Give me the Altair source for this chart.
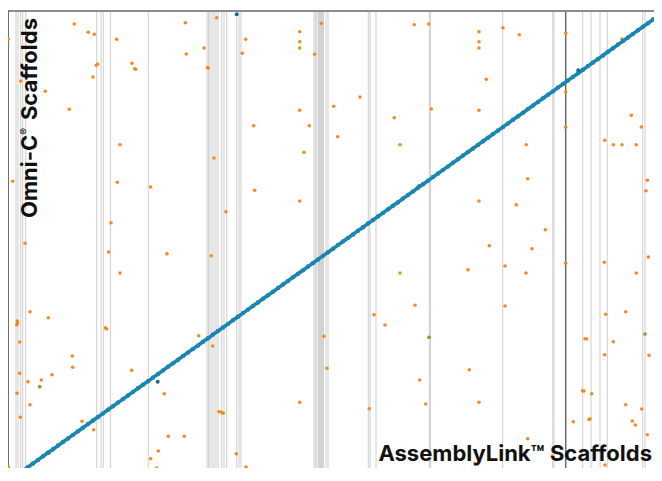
import altair as alt
import pandas as pd

# Scaffold boundaries on the AssemblyLink axis (plot units)
boundary_x = [8, 10, 12.7, 14.7, 17.7, 88.7, 93, 95.3, 102.5, 140.3,
              199, 200.5, 202, 204, 206, 208, 210, 213.7, 216, 218.7,
              228.7, 231, 233, 306, 307.5, 309, 310.5, 311.5, 312.5, 313.5,
              314.5, 315.5, 318, 320, 360.3, 362, 368, 421.3, 422.5, 494.7,
              544.7, 546, 574.7, 583, 592, 599.3, 634.7, 637, 648.7, 652]
boundary_dark_x = [557.7]

# Collinear (syntenic) alignments along the diagonal
diag_x = [0, 5, 10, 15, 20, 25, 30, 35, 40, 45, 50, 55, 60, 65, 70, 75, 80, 85, 90, 95,
          100, 105, 110, 115, 120, 125, 130, 135, 140, 145, 150, 155, 160, 165, 170, 175,
          180, 185, 190, 195, 200, 205, 210, 215, 220, 225, 230, 235, 240, 245, 250, 255,
          260, 265, 270, 275, 280, 285, 290, 295, 300, 305, 310, 315, 320, 325, 330, 335,
          340, 345, 350, 355, 360, 365, 370, 375, 380, 385, 390, 395, 400, 405, 410, 415,
          420, 425, 430, 435, 440, 445, 450, 455, 460, 465, 470, 475, 480, 485, 490, 495,
          500, 505, 510, 515, 520, 525, 530, 535, 540, 545, 550, 555, 560, 565, 570, 575,
          580, 585, 590, 595, 600, 605, 610, 615, 620, 625, 630, 635, 640, 645, 650, 655]
diag_y = [-0.4, 3.2, 6.8, 10.3, 13.9, 17.5, 21.1, 24.7, 28.2, 31.8, 35.4, 39.0, 42.6, 46.1,
          49.7, 53.3, 56.9, 60.5, 64.0, 67.6, 71.2, 74.8, 78.4, 81.9, 85.5, 89.1, 92.7, 96.3,
          99.8, 103.4, 107.0, 110.6, 114.2, 117.7, 121.3, 124.9, 128.5, 132.1, 135.6, 139.2,
          142.8, 146.4, 150.0, 153.5, 157.1, 160.7, 164.3, 167.9, 171.4, 175.0, 178.6, 182.2,
          185.8, 189.3, 192.9, 196.5, 200.1, 203.7, 207.2, 210.8, 214.4, 218.0, 221.6, 225.1,
          228.7, 232.3, 235.9, 239.5, 243.0, 246.6, 250.2, 253.8, 257.4, 260.9, 264.5, 268.1,
          271.7, 275.3, 278.8, 282.4, 286.0, 289.6, 293.2, 296.7, 300.3, 303.9, 307.5, 311.1,
          314.6, 318.2, 321.8, 325.4, 329.0, 332.5, 336.1, 339.7, 343.3, 346.9, 350.4, 354.0,
          357.6, 361.2, 364.8, 368.3, 371.9, 375.5, 379.1, 382.7, 386.2, 389.8, 393.4, 397.0,
          400.6, 404.1, 407.7, 411.3, 414.9, 418.5, 422.0, 425.6, 429.2, 432.8, 436.4, 439.9,
          443.5, 447.1, 450.7, 454.3, 457.8, 461.4, 465.0, 468.6]

blue_x = [228.7, 149.7, 652.7, 570.3]
blue_y = [466.7, 99.3, 146, 410.8]

green_x = [31.7, 40, 17.3, 421, 637, 411]
green_y = [94.3, 28.5, 11, 143.7, 147, 295.3]

orange_x = [0.3, 66.3, 80.3, 86.3, 108.7, 177.3, 208.7, 89.7, 88.3, 124, 127.7, 126.7, 178.3, 196,
            200.3, 199.5, 85, 12.7, 37.3, 61.3, 26.7, 112, 206, 4.7, 109.3, 142.7, 103, 17, 100.7,
            159, 203.3, 112, 22, 40.3, 9.3, 8.7, 9.7, 97.3, 98.7, 11.7, 190.7, 204.7, 64.3, 64.7,
            11.7, 123.7, 20, 33.3, 44, 9, 156.3, 22, 12.3, 211, 74, 85.7, 160.3, 176.3, 41, 150.3,
            142.7, 148.7, 0.3, 91, 124.3, 152.7, 196, 22, 6.3, 237.7, 291.7, 291.7, 291.7, 313.3,
            234.3, 306.7, 406.3, 420.7, 352, 325.7, 291.7, 423.3, 245.7, 301.3, 386.3, 329.7, 392,
            296, 246.7, 291.7, 218, 392, 407, 366, 377, 316, 319, 411.7, 291.7, 361.3, 417.7,
            213.7, 215.3, 228.3, 238, 218, 291.7, 332.7, 420, 471, 471, 471, 495, 511.3, 557.7,
            478.3, 471, 557.7, 557.7, 614, 623.3, 633.3, 596.7, 605.3, 614, 628.3, 518.3, 519.7,
            639.3, 638, 471, 508.3, 537.3, 469.3, 518.7, 481.3, 524, 460, 497, 518, 557.7, 596.3,
            640.3, 628.3, 497, 597.7, 617.7, 648, 577, 578.5, 605.3, 596.7, 641, 461.3, 574.7, 576,
            583.7, 471, 617.7, 633.7, 565.3, 582, 581, 624.3, 627.3, 639.3, 519.7, 544.3, 467, 597,
            617.7]
orange_y = [441.7, 457, 448.7, 446.7, 441.7, 458.3, 463.3, 417, 415.7, 417.7, 411.7, 412.3, 427, 433,
            413, 413.5, 404, 400, 389.7, 371.7, 334.3, 336.3, 323, 299.7, 298.7, 294, 258.3, 237.7,
            229, 227.3, 225.3, 208, 169.3, 163.3, 160, 156, 158, 153.3, 152, 139, 145.3, 135, 125,
            113.7, 107.7, 110.7, 99.3, 101, 106.3, 87.7, 87.3, 76.3, 63.7, 69.3, 59.7, 51.3, 44.7,
            44.7, 27.7, 30, 22.3, 13, 14, 7, 5, 6.7, 6.7, 1, 1, 441.7, 449.3, 439.3, 433, 457.7,
            427.7, 426.7, 456.3, 457, 384, 374.7, 370.7, 372, 355.3, 355.3, 363.3, 344.3, 336.3,
            328.7, 290.7, 280, 269.3, 208, 175.7, 166.3, 156, 144.7, 112.7, 101, 78.7, 72.3, 77,
            68.7, 67.7, 27.3, 14, 4.3, 6.7, 10.7, 2, 449.3, 439.3, 433, 453.3, 446.3, 447.7, 401.7,
            370.7, 389, 353.7, 442, 365.7, 354, 340.7, 336.3, 336.3, 336.3, 336.3, 302.3, 300.7,
            290.3, 280, 276.3, 251.3, 335.7, 371, 235.3, 232.3, 211.3, 215, 208, 217.7, 218.7, 224,
            208, 175, 166.7, 169.3, 149.7, 142.3, 142, 139.3, 126.3, 125.7, 111.3, 90.3, 90, 87.3,
            78.7, 76.3, 72, 59.3, 62.3, 61.5, 60, 56, 46.3, 42.3, 25, 17.7, 16, 0.3]

y_label_parts = ["Omni-C", "®", "Scaffolds"]
x_label = "AssemblyLink™ Scaffolds"

W, H = 646, 457
xs = alt.Scale(domain=[0, 646], nice=False, zero=False)
ys = alt.Scale(domain=[13, 470], nice=False, zero=False)

BLUE, ORANGE, GREEN = "#1a86b3", "#f58a1f", "#6fae3c"

X = alt.X("x:Q", scale=xs, axis=None)
Y = alt.Y("y:Q", scale=ys, axis=None)

vlines = alt.Chart(pd.DataFrame({"x": boundary_x})).mark_rule(
    strokeWidth=1.1, color="#d2d2d2", clip=True).encode(x=X)
vdark = alt.Chart(pd.DataFrame({"x": boundary_dark_x})).mark_rule(
    strokeWidth=1.5, color="#6a6a6a", clip=True).encode(x=X)

one = pd.DataFrame({"a": [0]})
top_border = alt.Chart(one).mark_rule(color="#8c8c8c", strokeWidth=2).encode(y=alt.value(0))
left_border = alt.Chart(one).mark_rule(color="#4a4a4a", strokeWidth=1.5).encode(x=alt.value(0))

orange = alt.Chart(pd.DataFrame({"x": orange_x, "y": orange_y})).mark_circle(
    size=13, opacity=1, color=ORANGE, clip=True).encode(x=X, y=Y)
green = alt.Chart(pd.DataFrame({"x": green_x, "y": green_y})).mark_circle(
    size=14, opacity=1, color=GREEN, clip=True).encode(x=X, y=Y)
blue = alt.Chart(pd.DataFrame({"x": blue_x, "y": blue_y})).mark_circle(
    size=16, opacity=1, color="#13708f", clip=True).encode(x=X, y=Y)

diag = pd.DataFrame({"x": diag_x, "y": diag_y})
diag_line = alt.Chart(diag).mark_line(color=BLUE, strokeWidth=3.6, clip=True).encode(x=X, y=Y)
diag_dots = alt.Chart(diag).mark_circle(size=20, color=BLUE, opacity=1, clip=True).encode(x=X, y=Y)

TXT = dict(font="Inter", fontWeight="bold", color="#111111", angle=270)
y1 = alt.Chart(pd.DataFrame({"t": [y_label_parts[0]]})).mark_text(
    fontSize=22, align="left", baseline="alphabetic", **TXT
).encode(text="t:N", x=alt.value(29), y=alt.value(207))
y2 = alt.Chart(pd.DataFrame({"t": [y_label_parts[1]]})).mark_text(
    fontSize=10, align="center", baseline="middle", **TXT
).encode(text="t:N", x=alt.value(16.5), y=alt.value(120.5))
y3 = alt.Chart(pd.DataFrame({"t": [y_label_parts[2]]})).mark_text(
    fontSize=22, align="right", baseline="alphabetic", **TXT
).encode(text="t:N", x=alt.value(29), y=alt.value(7))

xlab = alt.Chart(pd.DataFrame({"t": [x_label]})).mark_text(
    font="Inter", fontSize=22, fontWeight="bold", color="#111111",
    align="right", baseline="alphabetic",
).encode(text="t:N", x=alt.value(644), y=alt.value(450))

chart = alt.layer(
    vlines, vdark, top_border, left_border, orange, green, diag_line, diag_dots, blue,
    y1, y2, y3, xlab
).properties(
    width=W, height=H,
    autosize=alt.AutoSizeParams(type="none"),
    padding={"left": 0, "top": 3, "right": 0, "bottom": 0},
).configure_view(stroke=None).configure(background="white")

chart.save("out.html", embed_options={"renderer": "svg", "actions": False})
